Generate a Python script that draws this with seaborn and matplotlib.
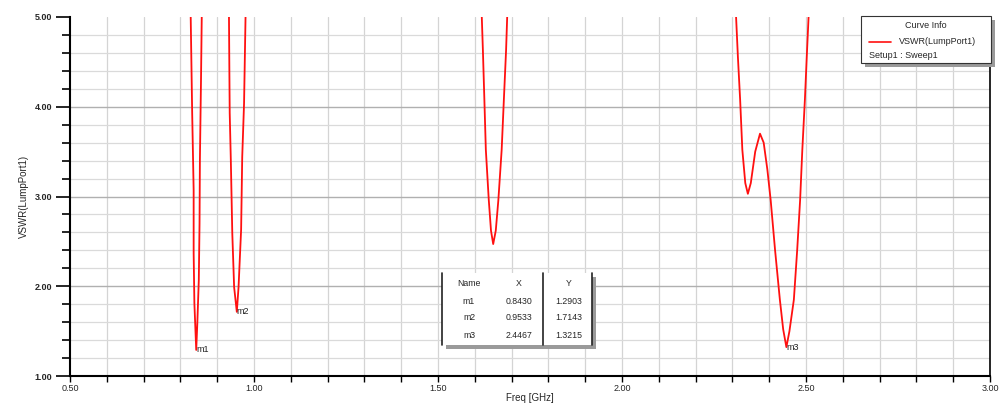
import matplotlib
matplotlib.use("Agg")
import matplotlib.pyplot as plt
from matplotlib.patches import Rectangle
from matplotlib.lines import Line2D
import numpy as np
import pandas as pd
import seaborn as sns

# Swept VSWR of LumpPort1, one list pair per resonance (GHz, VSWR)
dip1_freq = [0.828, 0.832, 0.836, 0.836, 0.838, 0.843, 0.846, 0.850, 0.852, 0.853, 0.856, 0.858]
dip1_vswr = [5.00, 3.93, 3.07, 2.37, 1.81, 1.2903, 1.59, 2.07, 2.70, 3.41, 4.30, 5.00]

dip2_freq = [0.932, 0.933, 0.934, 0.937, 0.941, 0.946, 0.9533, 0.958, 0.965, 0.968, 0.973, 0.977]
dip2_vswr = [5.00, 4.44, 3.93, 3.41, 2.59, 1.99, 1.7143, 1.99, 2.63, 3.44, 4.04, 5.00]

dip3_freq = [1.619, 1.622, 1.626, 1.630, 1.638, 1.644, 1.650, 1.657, 1.664, 1.673, 1.679, 1.685, 1.688]
dip3_vswr = [5.00, 4.63, 4.08, 3.52, 2.96, 2.62, 2.47, 2.62, 2.96, 3.52, 4.08, 4.63, 5.00]

dip4_freq = [2.310, 2.315, 2.321, 2.327, 2.335, 2.342, 2.350, 2.362, 2.375, 2.385, 2.395,
             2.404, 2.416, 2.429, 2.438, 2.4467, 2.455, 2.467, 2.476, 2.484, 2.490, 2.497, 2.502, 2.507]
dip4_vswr = [5.00, 4.55, 4.08, 3.52, 3.15, 3.03, 3.15, 3.50, 3.70, 3.60, 3.30,
             2.96, 2.40, 1.85, 1.52, 1.3215, 1.50, 1.85, 2.40, 2.96, 3.52, 4.08, 4.55, 5.00]

# Marker table
marker_names = ["m1", "m2", "m3"]
marker_x = [0.8430, 0.9533, 2.4467]
marker_y = [1.2903, 1.7143, 1.3215]

x_ticks = [0.50, 1.00, 1.50, 2.00, 2.50, 3.00]
y_ticks = [1.00, 2.00, 3.00, 4.00, 5.00]

curve_color = "#ff1010"

sns.set_theme(style="white")
plt.rcParams["font.family"] = ["Liberation Sans", "DejaVu Sans"]

fig = plt.figure(figsize=(10.06, 4.07), dpi=100)
ax = fig.add_axes([70 / 1006, 1 - 376 / 407, 920 / 1006, 359 / 407])

frames = []
for i, (f, v) in enumerate([(dip1_freq, dip1_vswr), (dip2_freq, dip2_vswr),
                            (dip3_freq, dip3_vswr), (dip4_freq, dip4_vswr)]):
    frames.append(pd.DataFrame({"freq": f, "vswr": v, "seg": i}))
df = pd.concat(frames, ignore_index=True)

for seg, d in df.groupby("seg"):
    sns.lineplot(data=d, x="freq", y="vswr", ax=ax, color=curve_color, lw=1.3,
                 sort=False, estimator=None, legend=False, zorder=4)

ax.set_xlim(0.5, 3.0)
ax.set_ylim(1.0, 5.0)

# grid: fine lines every 0.1 GHz / 0.2, heavier at integer VSWR
for xv in np.arange(0.6, 3.0, 0.1):
    ax.axvline(xv, color="#d4d4d4", lw=0.9, zorder=1)
for yv in np.arange(1.2, 5.0, 0.2):
    major = abs(yv - round(yv)) < 1e-6
    ax.axhline(yv, color="#b0b0b0" if major else "#dadada", lw=1.0 if major else 0.9, zorder=1)

ax.set_xticks(x_ticks)
ax.set_xticklabels([f"{t:.2f}" for t in x_ticks], fontsize=6.5)
ax.set_xticks(np.arange(0.5, 3.01, 0.1), minor=True)
ax.set_yticks(y_ticks)
ax.set_yticklabels([f"{t:.2f}" for t in y_ticks], fontsize=6.5, fontweight="bold")
ax.set_yticks(np.arange(1.0, 5.01, 0.2), minor=True)
ax.tick_params(axis="y", which="major", length=10, width=1.2, color="black", left=True, pad=3)
ax.tick_params(axis="y", which="minor", length=6, width=1.2, color="black", left=True)
ax.tick_params(axis="x", which="major", length=4, width=1.0, color="black", bottom=True, pad=2)
ax.tick_params(axis="x", which="minor", length=4, width=1.0, color="black", bottom=True)

ax.spines["top"].set_visible(False)
for side in ["left", "bottom", "right"]:
    ax.spines[side].set_color("black")
    ax.spines[side].set_linewidth(1.5)
ax.spines["right"].set_linewidth(1.2)

ax.set_xlabel("Freq [GHz]", fontsize=7, labelpad=0)
ax.set_ylabel("VSWR(LumpPort1)", fontsize=7, labelpad=4)

# marker labels on the curve
for name, mx, my in zip(marker_names, marker_x, marker_y):
    ax.text(mx, my, name, fontsize=6.5, ha="left", va="center", color="#222222", zorder=6)

# Curve info box
bx0, by0, bx1, by1 = 861, 16, 991, 63
tr = fig.transFigure
def fx(px): return px / 1006
def fy(py): return 1 - py / 407
fig.patches.append(Rectangle((fx(bx0 + 4), fy(by1 + 4)), fx(bx1) - fx(bx0), fy(by0) - fy(by1),
                             transform=tr, facecolor="#9a9a9a", edgecolor="none", zorder=8))
fig.patches.append(Rectangle((fx(bx0), fy(by1)), fx(bx1) - fx(bx0), fy(by0) - fy(by1),
                             transform=tr, facecolor="white", edgecolor="#333333", lw=0.8, zorder=9))
fig.text(fx(926), fy(25), "Curve Info", fontsize=6.5, ha="center", va="center", zorder=10)
fig.lines.append(Line2D([fx(869), fx(891)], [fy(42), fy(42)], transform=tr,
                        color=curve_color, lw=1.2, zorder=10))
fig.text(fx(899), fy(42), "VSWR(LumpPort1)", fontsize=6.5, ha="left", va="center", zorder=10)
fig.text(fx(869), fy(56), "Setup1 : Sweep1", fontsize=6.5, ha="left", va="center", zorder=10)

# Marker table
tx0, ty0, tx1, ty1 = 442, 273, 592, 345
fig.patches.append(Rectangle((fx(tx0 + 4), fy(ty1 + 4)), fx(tx1) - fx(tx0), fy(ty0) - fy(ty1),
                             transform=tr, facecolor="#9a9a9a", edgecolor="none", zorder=8))
fig.patches.append(Rectangle((fx(tx0), fy(ty1)), fx(tx1) - fx(tx0), fy(ty0) - fy(ty1),
                             transform=tr, facecolor="white", edgecolor="none", zorder=9))
for xl in [tx0, 543, tx1]:
    fig.lines.append(Line2D([fx(xl), fx(xl)], [fy(ty0), fy(ty1)], transform=tr,
                            color="#222222", lw=1.2, zorder=10))
col_x = [469, 519, 569]
row_y = [283, 301, 318, 336]
for cx, head in zip(col_x, ["Name", "X", "Y"]):
    fig.text(fx(cx), fy(row_y[0]), head, fontsize=6.3, ha="center", va="center", zorder=11)
for ry, name, mx, my in zip(row_y[1:], marker_names, marker_x, marker_y):
    fig.text(fx(col_x[0]), fy(ry), name, fontsize=6.3, ha="center", va="center", zorder=11)
    fig.text(fx(col_x[1]), fy(ry), f"{mx:.4f}", fontsize=6.3, ha="center", va="center", zorder=11)
    fig.text(fx(col_x[2]), fy(ry), f"{my:.4f}", fontsize=6.3, ha="center", va="center", zorder=11)

fig.savefig("out.png", dpi=100)
